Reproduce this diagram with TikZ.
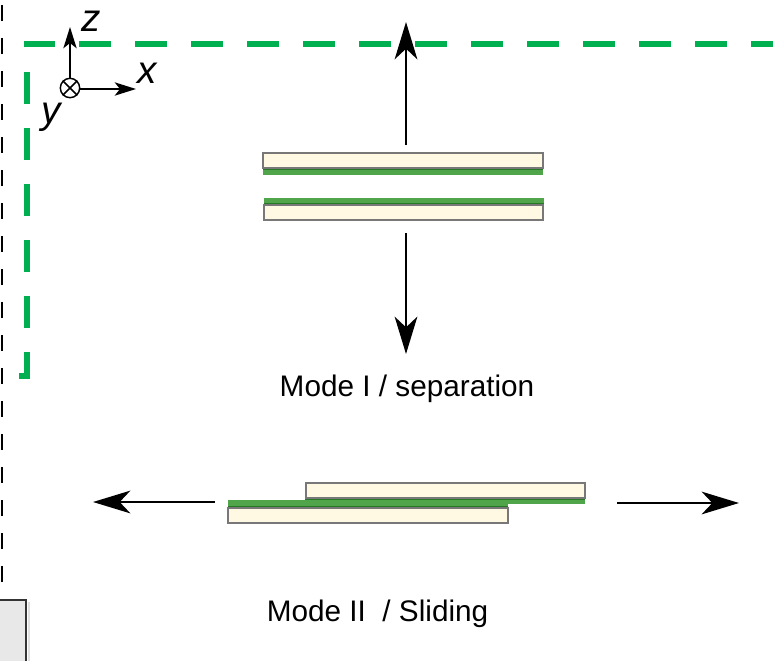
\documentclass[tikz,border=0pt]{standalone}
\usepackage{fontspec}
\setmainfont{Liberation Sans}
\usetikzlibrary{arrows.meta}

\definecolor{frameGreen}{RGB}{0,176,80}
\definecolor{layerGreen}{RGB}{80,164,74}
\definecolor{layerEdge}{RGB}{38,120,38}
\definecolor{plateFill}{RGB}{255,248,226}
\definecolor{plateEdge}{RGB}{120,120,120}

\tikzset{
  plate/.style={fill=plateFill, draw=plateEdge, line width=1.1pt},
  layer/.style={fill=layerGreen, draw=none},
  layerline/.style={draw=layerEdge, line width=1.1pt},
  bigarrow/.style={line width=1.8pt, -{Stealth[length=28pt, width=17pt, inset=8pt]}},
  axisarrow/.style={line width=1.1pt, -{Stealth[length=16pt, width=10pt, inset=4pt]}},
  axislabel/.style={font=\fontsize{29}{33}\selectfont\itshape, inner sep=0pt, anchor=base},
  caption/.style={font=\fontsize{22.3}{26}\selectfont, inner sep=0pt, anchor=base},
}

\begin{document}
\begin{tikzpicture}[x=0.75pt, y=-0.75pt]
\useasboundingbox (0,0) rectangle (773,660);
\clip (0,0) rectangle (773,660);

% dashed boundary on the left
\draw[line width=1.5pt, dash pattern=on 12pt off 12.75pt] (2,5) -- (2,595);

% grey box in the lower left corner
\fill[black!12] (28,602) rectangle (30,665);
\draw[fill=black!9, draw=black!80, line width=1.1pt] (-5,600) rectangle (26,665);

% green dashed frame
\draw[frameGreen, line width=4.5pt, dash pattern=on 24pt off 18pt, line join=miter]
  (19,376) -- (26.5,376) -- (26.5,44) -- (790,44);

% coordinate axes
\coordinate (O) at (70,88);
\node[draw, circle, line width=1.1pt, minimum size=14.5pt, inner sep=0pt] (orig) at (O) {};
\draw[line width=1.1pt] (orig.north west) -- (orig.south east) (orig.north east) -- (orig.south west);
\coordinate (zt) at (70,27);
\coordinate (xt) at (136,89);
\draw[axisarrow] (orig.north) -- (zt);
\draw[axisarrow] (orig.east |- xt) -- (xt);
\node[axislabel] (zl) at (91,32) {z};
\node[axislabel] (xl) at (147,83) {x};
\node[axislabel] (yl) at (51,123) {y};

% mode I: two plates pulled apart
\path[layer] (263,166) rectangle (543,175);
\draw[layerline] (263,169.5) -- (543,169.5);
\draw[plate] (263,153) rectangle (543,168);

\path[layer] (264,198) rectangle (544,206);
\draw[layerline] (264,204) -- (544,204);
\draw[plate] (264,205) rectangle (543,220);

\coordinate (upS) at (406,145);
\coordinate (upE) at (406,22);
\coordinate (dnS) at (406,233);
\coordinate (dnE) at (406,354);
\draw[bigarrow] (upS) -- (upE);
\draw[bigarrow] (dnS) -- (dnE);

\node[caption] (capI) at (407,396) {Mode I / separation};

% mode II: two plates sliding past each other
\path[layer] (228,500) rectangle (508,509);
\draw[layerline] (228,507) -- (508,507);
\draw[plate] (228,508) rectangle (508,523);

\path[layer] (305,496) rectangle (585,504);
\draw[layerline] (305,499.5) -- (585,499.5);
\draw[plate] (306,483) rectangle (585,498);

\coordinate (lfS) at (215,502);
\coordinate (lfE) at (93,502);
\coordinate (rtS) at (617,503);
\coordinate (rtE) at (739,503);
\draw[bigarrow] (lfS) -- (lfE);
\draw[bigarrow] (rtS) -- (rtE);

\node[caption] (capII) at (377.5,621) {Mode II\ \ / Sliding};
\end{tikzpicture}
\end{document}
